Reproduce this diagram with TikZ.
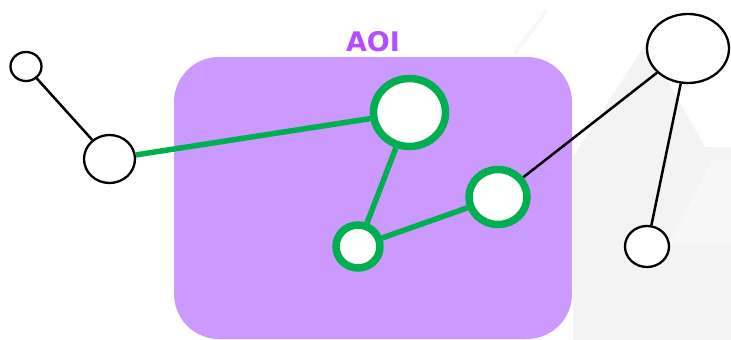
\documentclass[tikz,border=0pt]{standalone}
\usepackage{fontspec}
\setmainfont{DejaVu Sans}
\usetikzlibrary{shapes.geometric}
\definecolor{aoifill}{HTML}{CC99FF}
\definecolor{aoitext}{HTML}{B44CFF}
\definecolor{grn}{HTML}{00B050}
\definecolor{bgA}{HTML}{F3F3F3}
\definecolor{bgB}{HTML}{F7F7F7}
\begin{document}
\begin{tikzpicture}[x=1pt,y=-1pt,
  outnode/.style={ellipse,draw=black,line width=2.3pt,fill=white,inner sep=0pt},
  innode/.style={ellipse,draw=grn,line width=7.5pt,fill=white,inner sep=0pt},
  outedge/.style={draw=black,line width=2.5pt},
  inedge/.style={draw=grn,line width=5.5pt}]
\useasboundingbox (0,0) rectangle (731,340);
% background decoration
\fill[bgA] (573,340) -- (573,157) -- (646,43) -- (705,147) -- (731,147) -- (731,340) -- cycle;
\fill[bgB] (668,245) -- (712,160) -- (731,160) -- (731,245) -- cycle;
\draw[bgB,line width=4pt] (515,53) -- (547,10);
% AOI area
\fill[aoifill,rounded corners=45pt] (174,57) rectangle (572,339);
\node[font=\bfseries\fontsize{27}{30}\selectfont,text=aoitext] (aoi) at (373,42) {AOI};
% nodes
\node[outnode,minimum width=31pt,minimum height=29pt] (n1) at (26,66.5) {};
\node[outnode,minimum width=51pt,minimum height=48pt] (n2) at (109.5,159) {};
\node[innode,minimum width=72pt,minimum height=68pt] (n3) at (409.5,112.5) {};
\node[innode,minimum width=44pt,minimum height=43pt] (n4) at (358,246.5) {};
\node[innode,minimum width=58pt,minimum height=55pt] (n5) at (498,197) {};
\node[outnode,minimum width=82pt,minimum height=69pt] (n6) at (688,48.5) {};
\node[outnode,minimum width=44pt,minimum height=41pt] (n7) at (647,246.5) {};
% edges
\draw[outedge] (n1) -- (n2);
\draw[inedge] (n2) -- (n3);
\draw[inedge] (n3) -- (n4);
\draw[inedge] (n4) -- (n5);
\draw[outedge] (n5) -- (n6);
\draw[outedge] (n6) -- (n7);
\end{tikzpicture}
\end{document}
